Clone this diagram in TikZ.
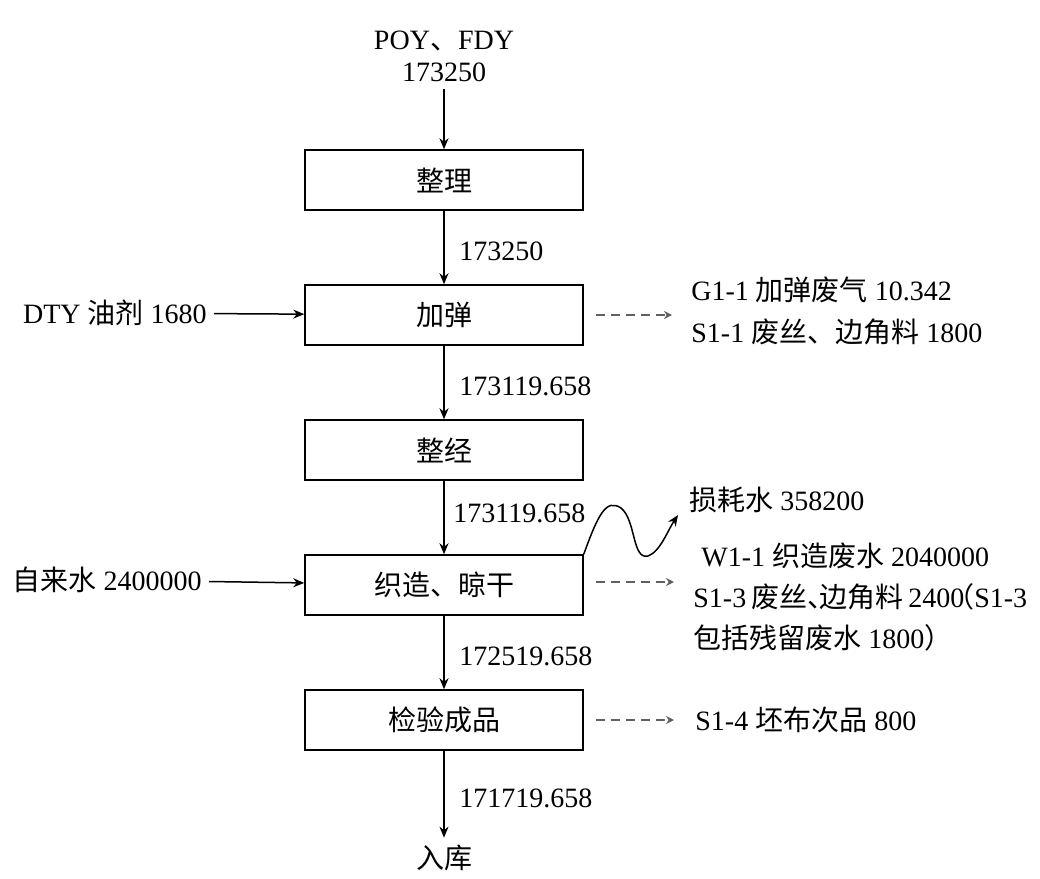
\documentclass[tikz,border=0pt]{standalone}
\usepackage{fontspec}
\setmainfont{Liberation Serif}
\newfontfamily\cjk{Noto Sans CJK SC}
\usetikzlibrary{arrows.meta, positioning}

\begin{document}
\begin{tikzpicture}[x=0.5pt,y=-0.5pt,->,>={Stealth[length=5.5pt,width=4.5pt]},node distance=67.5pt,
                    font=\fontsize{14}{16}\selectfont,line width=0.75pt,
                    main node/.style={rectangle,draw,minimum width=139pt,minimum height=30pt,font=\fontsize{14}{16}\selectfont\cjk},
                    out line/.style={dashed,dash pattern=on 4.5pt off 3pt,draw=gray!75!black,line width=1.3pt,
                                     -{Stealth[length=4pt,width=4pt]}},
                    side text/.style={anchor=west,align=left,font=\fontsize{14}{20.7}\selectfont}]
        \useasboundingbox (0,0) rectangle (1040,879);

        \node[main node] (zl) at (444,180) {整理};
        \node[main node] (jt) [below of=zl] {加弹};
        \node[main node] (zj) [below of=jt] {整经};
        \node[main node] (zz) [below of=zj] {织造、晾干};
        \node[main node] (jy) [below of=zz] {检验成品};

        \node[align=center] (src) at (444,56) {POY{\cjk 、}FDY\\173250};
        \node (rk) at (444,858) {\cjk 入库};

        % main flow
        \draw (src) -- (zl);
        \draw (zl) -- node[right=4pt,pos=0.55] {173250} (jt);
        \draw (jt) -- node[right=4pt,pos=0.55] {173119.658} (zj);
        \draw (zj) -- node[right=1pt,pos=0.45] {173119.658} (zz);
        \draw (zz) -- node[right=4pt,pos=0.55] {172519.658} (jy);
        \draw (jy) -- node[right=4pt,pos=0.55] {171719.658} (rk);

        % inputs
        \node[anchor=east] (dty) at (214,313) {DTY {\cjk 油剂} 1680};
        \node[anchor=east] (water) at (209,580) {{\cjk 自来水} 2400000};
        \draw (dty) -- (jt);
        \draw (water) -- (zz);

        % outputs
        \coordinate (g1) at (672,315);
        \coordinate (w1) at (674,582);
        \coordinate (s4) at (674,720);
        \node[side text] (g1t) at (684,311) {G1-1 {\cjk 加弹废气} 10.342\\S1-1 {\cjk 废丝、边角料} 1800};
        \node[side text] (w1t) at (686,597) {\hspace{4pt}W1-1 {\cjk 织造废水} 2040000\\
            S1-3\hspace{-1pt} {\cjk 废丝、\hspace{-8pt}边角料}\hspace{-1pt} 2400\hspace{-9pt}{\cjk （}S1-3\\
            {\cjk 包括残留废水} 1800{\cjk ）}};
        \node[side text] (s4t) at (688,720) {S1-4 {\cjk 坯布次品} 800};
        \node[side text] (loss) at (682,500) {{\cjk 损耗水} 358200};
        \draw[out line] ([xshift=6pt]jt.east|-g1) -- (g1);
        \draw[out line] ([xshift=6pt]zz.east|-w1) -- (w1);
        \draw[out line] ([xshift=6pt]jy.east|-s4) -- (s4);
        \draw (zz.north east) .. controls (598,515) and (606,498) .. (621,508)
                              .. controls (636,520) and (632,560) .. (648,556)
                              .. controls (660,552) and (668,530) .. (678,515);
\end{tikzpicture}
\end{document}
